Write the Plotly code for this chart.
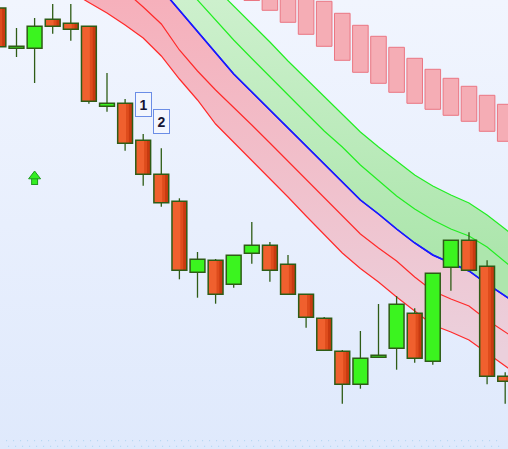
import base64
import plotly.graph_objects as go

# ---------------- data ----------------
idx = list(range(29))
opens = [1292.0, 1251.7, 1251.7, 1280.7, 1276.7, 1273.7, 1193.7, 1196.7, 1159.7, 1125.7,
         1098.7, 1027.7, 1039.7, 1015.7, 1046.7, 1054.7, 1035.7, 1005.7, 981.7, 948.7,
         915.7, 942.7, 951.7, 986.7, 938.7, 1032.7, 1059.7, 1033.7, 923.7]
highs = [1297.0, 1272.0, 1282.0, 1296.0, 1296.0, 1273.7, 1227.0, 1201.0, 1166.0, 1151.7,
         1101.7, 1048.0, 1041.0, 1045.0, 1078.0, 1058.0, 1045.0, 1006.0, 983.0, 950.0,
         969.0, 996.0, 1004.0, 991.7, 1027.0, 1060.0, 1067.7, 1039.7, 927.7]
lows = [1250.0, 1243.0, 1217.0, 1266.3, 1259.3, 1196.3, 1188.3, 1149.3, 1114.3, 1093.3,
        1020.7, 1002.3, 996.3, 1012.3, 1036.3, 1018.3, 1005.0, 972.3, 949.0, 896.3,
        911.3, 942.7, 930.3, 937.3, 935.3, 1009.3, 1029.7, 915.7, 896.3]
closes = [1253.3, 1253.7, 1273.7, 1273.7, 1270.7, 1198.7, 1196.7, 1156.7, 1125.7, 1097.3,
          1029.7, 1040.7, 1005.7, 1044.7, 1054.7, 1029.7, 1005.7, 982.7, 949.7, 915.7,
          941.7, 944.7, 995.7, 941.7, 1026.7, 1059.7, 1029.7, 923.7, 918.7]

band_idx = list(range(30))
band_lower2 = [1352, 1341, 1330, 1319, 1308, 1297.5, 1287, 1275, 1262, 1244, 1221, 1200, 1176, 1158,
               1140, 1122, 1103, 1084, 1065, 1047, 1031.5, 1018, 1003, 989, 975, 968, 960, 947, 934, 921]
band_lower1 = [1408, 1394, 1380, 1366, 1352, 1338, 1324, 1309, 1293, 1276, 1250, 1229, 1210, 1193,
               1175, 1157, 1139, 1120, 1102, 1084, 1066, 1052, 1039, 1023, 1009, 1001, 994, 980, 968, 956]
band_mid = [1476, 1458, 1440, 1422, 1404, 1386, 1368, 1350, 1331, 1311, 1290, 1269, 1247, 1226,
            1208, 1190, 1172, 1154, 1136, 1118, 1100, 1086, 1071, 1057, 1045, 1037, 1029, 1016, 1004, 992]
band_upper1 = [1520, 1500, 1480, 1460, 1440, 1420, 1400, 1380, 1360, 1340, 1320, 1301, 1281, 1260,
               1241.5, 1223, 1205, 1187, 1169, 1153, 1135, 1119, 1104, 1091, 1080, 1071, 1064, 1053,
               1038, 1023]
band_upper2 = [1528, 1510, 1492, 1474, 1456, 1438, 1420, 1402, 1384, 1366, 1348, 1330, 1312, 1295,
               1277, 1258, 1239, 1221, 1203, 1185, 1168, 1153, 1139, 1125, 1114, 1105, 1097, 1085,
               1071, 1057]

ghost_idx = [14, 15, 16, 17, 18, 19, 20, 21, 22, 23, 24, 25, 26, 27, 28]
ghost_high = [1345, 1336, 1324, 1312, 1298.7, 1286.7, 1274.7, 1263.7, 1252.7, 1241.7,
              1230.7, 1221.7, 1213.7, 1204.7, 1195.7]
ghost_low = [1299.5, 1289.7, 1277.7, 1265.7, 1253.7, 1239.7, 1227.7, 1216.7, 1207.7, 1196.7,
             1190.7, 1184.7, 1178.7, 1168.7, 1158.7]

signal_idx = [2]
signal_price = [1122]

label_idx = [8, 9]
label_text = ["1", "2"]
label_price = [1195.2, 1178.2]

X_RANGE = [0.0884, 28.155]
Y_RANGE = [851, 1300]

# ---------------- figure ----------------
fig = go.Figure()

# bands (base subplot)
fig.add_trace(go.Scatter(x=band_idx, y=band_lower2, mode="lines",
                         line=dict(color="#ff2a2a", width=1.2), hoverinfo="skip"))
fig.add_trace(go.Scatter(x=band_idx, y=band_mid, mode="lines", fill="tonexty",
                         fillgradient=dict(type="vertical",
                                           colorscale=[[0, "#ebd0dc"], [1, "#f6b0bb"]],
                                           start=950, stop=1300),
                         line=dict(color="#1a1aff", width=1.5), hoverinfo="skip"))
fig.add_trace(go.Scatter(x=band_idx, y=band_upper2, mode="lines", fill="tonexty",
                         fillgradient=dict(type="vertical",
                                           colorscale=[[0, "#ade6ad"], [1, "#cdf0cd"]],
                                           start=1050, stop=1300),
                         line=dict(color="#22ee22", width=1.2), hoverinfo="skip"))
fig.add_trace(go.Scatter(x=band_idx, y=band_lower1, mode="lines",
                         line=dict(color="#ff2a2a", width=1.2), hoverinfo="skip"))
fig.add_trace(go.Scatter(x=band_idx, y=band_upper1, mode="lines",
                         line=dict(color="#22ee22", width=1.2), hoverinfo="skip"))
fig.add_trace(go.Scatter(x=band_idx, y=band_mid, mode="lines",
                         line=dict(color="#1a1aff", width=1.5), hoverinfo="skip"))

# everything else on an overlaid subplot so it is drawn above the bands
OV = dict(xaxis="x2", yaxis="y2")

# ghost (projected) bars
fig.add_trace(go.Bar(x=ghost_idx, base=ghost_low,
                     y=[h - l for h, l in zip(ghost_high, ghost_low)],
                     width=0.86, marker=dict(color="#f5adb5",
                                             line=dict(color="#ea7682", width=1)),
                     hoverinfo="skip", **OV))

# bodies
up = [i for i in idx if closes[i] >= opens[i]]
dn = [i for i in idx if closes[i] < opens[i]]
W = 0.82


def body(ids):
    base = [min(opens[i], closes[i]) for i in ids]
    hgt = [abs(closes[i] - opens[i]) for i in ids]
    return base, hgt


b_dn, h_dn = body(dn)
b_up, h_up = body(up)

fig.add_trace(go.Bar(x=dn, base=b_dn, y=h_dn, width=W, offset=-W / 2,
                     marker=dict(color="#f0602e", line=dict(width=0)), hoverinfo="skip", **OV))
fig.add_trace(go.Bar(x=dn, base=b_dn, y=h_dn, width=0.36, offset=0.05,
                     marker=dict(color="#de4c1c", line=dict(width=0)), hoverinfo="skip", **OV))
fig.add_trace(go.Bar(x=dn, base=b_dn, y=h_dn, width=0.2, offset=0.21,
                     marker=dict(color="#c83a10", line=dict(width=0)), hoverinfo="skip", **OV))
fig.add_trace(go.Bar(x=up, base=b_up, y=h_up, width=W, offset=-W / 2,
                     marker=dict(color="#3bf41f", line=dict(width=0)), hoverinfo="skip", **OV))
fig.add_trace(go.Bar(x=idx, base=[min(o, c) for o, c in zip(opens, closes)],
                     y=[abs(c - o) for o, c in zip(opens, closes)], width=W, offset=-W / 2,
                     marker=dict(color="rgba(0,0,0,0)", line=dict(color="#2e5c16", width=1.5)),
                     hoverinfo="skip", **OV))

# wicks: upper and lower segments outside the body
wx, wy = [], []
for i in idx:
    top = max(opens[i], closes[i])
    bot = min(opens[i], closes[i])
    if highs[i] > top:
        wx += [i, i, None]
        wy += [top, highs[i], None]
    if lows[i] < bot:
        wx += [i, i, None]
        wy += [lows[i], bot, None]
fig.add_trace(go.Scatter(x=wx, y=wy, mode="lines",
                         line=dict(color="#2e5c16", width=1.3), hoverinfo="skip", **OV))

# signal arrow: outlined stem + head
stem_x, stem_y = [], []
for i, p in zip(signal_idx, signal_price):
    stem_x += [i, i, None]
    stem_y += [p + 0.5, p - 7, None]
fig.add_trace(go.Scatter(x=stem_x, y=stem_y, mode="lines",
                         line=dict(color="#1f9a1f", width=7), hoverinfo="skip", **OV))
fig.add_trace(go.Scatter(x=stem_x, y=[v if v is None else v + (0 if k % 3 == 0 else 1)
                                      for k, v in enumerate(stem_y)], mode="lines",
                         line=dict(color="#33ee22", width=5), hoverinfo="skip", **OV))
fig.add_trace(go.Scatter(x=signal_idx, y=[p + 1.8 for p in signal_price], mode="markers",
                         marker=dict(symbol="triangle-up", size=10.4, color="#33ee22",
                                     line=dict(color="#1f9a1f", width=1)), hoverinfo="skip", **OV))

# labels
for i, t, p in zip(label_idx, label_text, label_price):
    fig.add_annotation(x=i, y=p, xref="x2", yref="y2", text=f"<b>{t}</b>", showarrow=False,
                       font=dict(family="Liberation Sans, Arial", size=14, color="#151535"),
                       bgcolor="#f3f6fe", bordercolor="#6b8de6", borderwidth=1,
                       borderpad=2, width=11, height=19)

# background gradient
svg = ('<svg xmlns="http://www.w3.org/2000/svg" width="10" height="100" viewBox="0 0 10 100" '
       'preserveAspectRatio="none"><defs><linearGradient id="g" x1="0" y1="0" x2="0" y2="1">'
       '<stop offset="0" stop-color="#f1f5fe"/><stop offset="1" stop-color="#dfe9fc"/>'
       '</linearGradient></defs><rect width="10" height="100" fill="url(#g)"/></svg>')
src = "data:image/svg+xml;base64," + base64.b64encode(svg.encode()).decode()
fig.add_layout_image(dict(source=src, xref="paper", yref="paper", x=0, y=1, sizex=1, sizey=1,
                          sizing="stretch", xanchor="left", yanchor="top", layer="below"))

# dotted bottom border
fig.add_shape(type="line", xref="paper", yref="y", x0=0.012, x1=0.988, y0=859.3, y1=859.3,
              line=dict(color="#a9d3f0", width=1, dash="1px,6px"))
fig.add_shape(type="line", xref="paper", yref="y", x0=0.016, x1=0.984, y0=853.7, y1=853.7,
              line=dict(color="#a9d3f0", width=1, dash="1px,6px"))

fig.update_layout(
    width=508, height=449, margin=dict(l=0, r=0, t=0, b=0, pad=0),
    showlegend=False, barmode="overlay",
    paper_bgcolor="#e9effd", plot_bgcolor="rgba(0,0,0,0)",
    xaxis=dict(range=X_RANGE, visible=False, fixedrange=True),
    yaxis=dict(range=Y_RANGE, visible=False, fixedrange=True),
    xaxis2=dict(range=X_RANGE, visible=False, fixedrange=True, overlaying="x"),
    yaxis2=dict(range=Y_RANGE, visible=False, fixedrange=True, overlaying="y"),
)

fig.write_html("out.html", config={"displayModeBar": False},
               post_script="document.body.style.margin='0';document.body.style.overflow='hidden';")
